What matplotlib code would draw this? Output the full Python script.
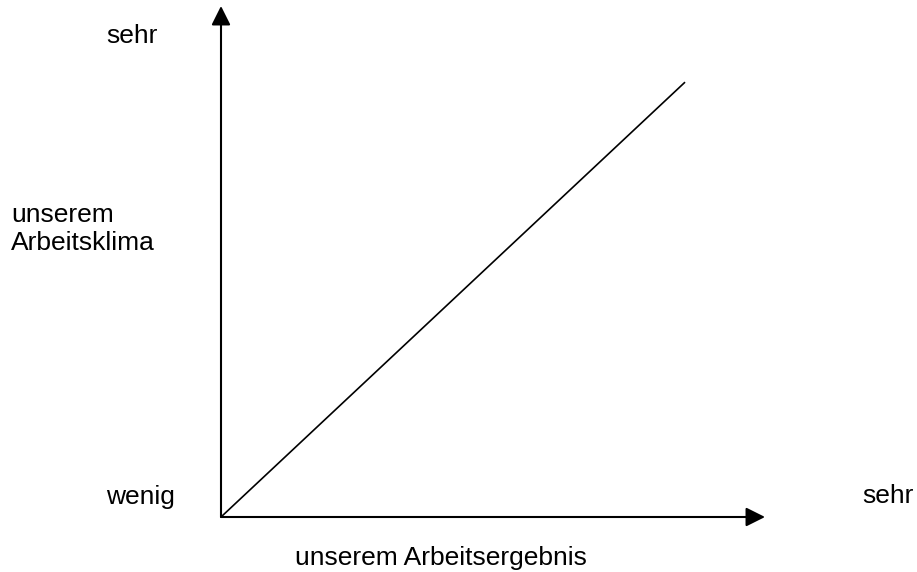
#!/usr/bin/env python3
import matplotlib

matplotlib.use("Agg")
import matplotlib.pyplot as plt

plt.rcParams["font.family"] = ["Liberation Sans", "DejaVu Sans"]

W, H = 917, 572

# diagonal: Arbeitsergebnis vs Arbeitsklima (axis fraction)
LINE_X = [0.0, 0.853]
LINE_Y = [0.0, 0.851]

Y_TOP = "sehr"
Y_LABEL = ["unserem", "Arbeitsklima"]
Y_BOTTOM = "wenig"
X_RIGHT = "sehr"
X_LABEL = "unserem Arbeitsergebnis"


def px(x, y):
    return x / W, 1 - y / H


def main():
    fig = plt.figure(figsize=(W / 100, H / 100), dpi=100)
    x0, y0 = px(221, 517)
    x1, y1 = px(765, 6)
    ax = fig.add_axes([x0, y0, x1 - x0, y1 - y0])
    ax.set_xlim(0, 1)
    ax.set_ylim(0, 1)
    ax.axis("off")

    ax.plot(LINE_X, LINE_Y, color="black", linewidth=1.2, solid_capstyle="butt")

    arrow = dict(arrowstyle="-|>,head_length=0.4,head_width=0.2", mutation_scale=29,
                 color="black", linewidth=1.5, shrinkA=0, shrinkB=0)
    ax.annotate("", xy=(1, 0), xytext=(0, 0), xycoords="axes fraction",
                textcoords="axes fraction", arrowprops=arrow, annotation_clip=False)
    ax.annotate("", xy=(0, 1), xytext=(0, 0), xycoords="axes fraction",
                textcoords="axes fraction", arrowprops=arrow, annotation_clip=False)

    fs = 19
    fig.text(*px(106, 43), Y_TOP, fontsize=fs, va="baseline")
    fig.text(*px(11, 222), Y_LABEL[0], fontsize=fs, va="baseline")
    fig.text(*px(11, 250), Y_LABEL[1], fontsize=fs, va="baseline")
    fig.text(*px(106, 504), Y_BOTTOM, fontsize=fs, va="baseline")
    fig.text(*px(862, 503), X_RIGHT, fontsize=fs, va="baseline")
    fig.text(*px(295, 565), X_LABEL, fontsize=fs, va="baseline")

    fig.savefig("out.png", dpi=100, facecolor="white")
    plt.close(fig)


if __name__ == "__main__":
    main()
